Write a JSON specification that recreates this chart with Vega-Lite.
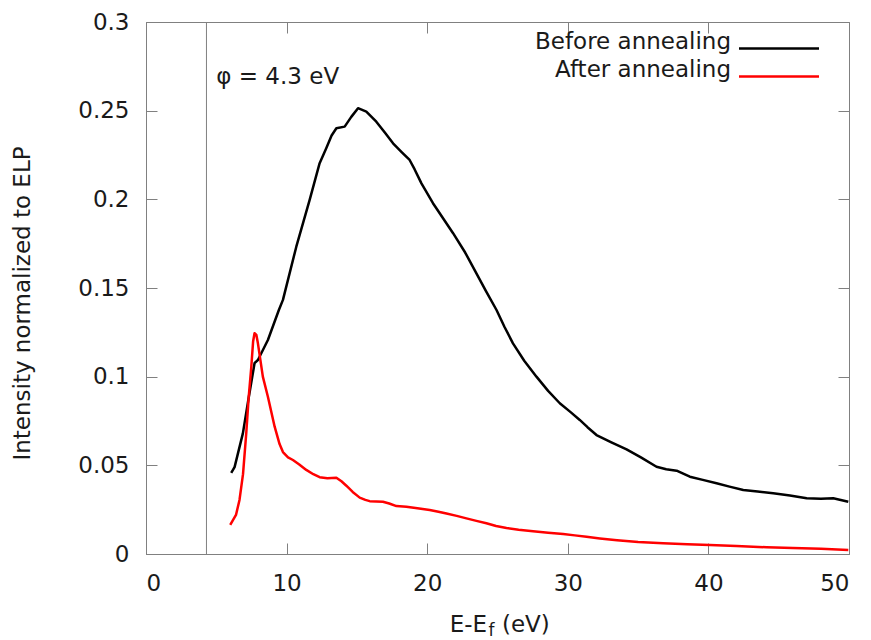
{
  "$schema": "https://vega.github.io/schema/vega-lite/v6.json",
  "width": 703,
  "height": 532,
  "autosize": {"type": "none"},
  "padding": {"left": 146, "top": 22, "right": 22, "bottom": 86},
  "background": "white",
  "config": {
    "font": "DejaVu Sans",
    "view": {"stroke": "#808080", "strokeWidth": 1},
    "axis": {
      "domainColor": "#808080",
      "tickColor": "#808080",
      "grid": false,
      "labelColor": "#1a1a1a",
      "titleColor": "#1a1a1a",
      "labelFont": "DejaVu Sans",
      "titleFont": "DejaVu Sans",
      "labelFontSize": 23,
      "titleFontSize": 23,
      "titleFontWeight": "normal",
      "tickSize": -11
    },
    "text": {"font": "DejaVu Sans", "color": "#1a1a1a"}
  },
  "datasets": {
    "curves": [
      {"series": "Before annealing", "e": 6.06, "intensity": 0.0457},
      {"series": "Before annealing", "e": 6.3, "intensity": 0.049},
      {"series": "Before annealing", "e": 6.89, "intensity": 0.068},
      {"series": "Before annealing", "e": 7.3, "intensity": 0.088},
      {"series": "Before annealing", "e": 7.72, "intensity": 0.1076},
      {"series": "Before annealing", "e": 7.96, "intensity": 0.1094},
      {"series": "Before annealing", "e": 8.67, "intensity": 0.1207},
      {"series": "Before annealing", "e": 9.45, "intensity": 0.1376},
      {"series": "Before annealing", "e": 9.74, "intensity": 0.1433},
      {"series": "Before annealing", "e": 10.69, "intensity": 0.1733},
      {"series": "Before annealing", "e": 11.64, "intensity": 0.1997},
      {"series": "Before annealing", "e": 12.35, "intensity": 0.2204},
      {"series": "Before annealing", "e": 12.82, "intensity": 0.2288},
      {"series": "Before annealing", "e": 13.2, "intensity": 0.236},
      {"series": "Before annealing", "e": 13.54, "intensity": 0.2401},
      {"series": "Before annealing", "e": 14.13, "intensity": 0.241},
      {"series": "Before annealing", "e": 14.6, "intensity": 0.2465},
      {"series": "Before annealing", "e": 15.08, "intensity": 0.2514},
      {"series": "Before annealing", "e": 15.67, "intensity": 0.2495},
      {"series": "Before annealing", "e": 16.38, "intensity": 0.2438},
      {"series": "Before annealing", "e": 17.0, "intensity": 0.2375},
      {"series": "Before annealing", "e": 17.57, "intensity": 0.2316},
      {"series": "Before annealing", "e": 18.2, "intensity": 0.2265},
      {"series": "Before annealing", "e": 18.75, "intensity": 0.2222},
      {"series": "Before annealing", "e": 19.1, "intensity": 0.217},
      {"series": "Before annealing", "e": 19.59, "intensity": 0.209},
      {"series": "Before annealing", "e": 20.41, "intensity": 0.1978},
      {"series": "Before annealing", "e": 20.65, "intensity": 0.195},
      {"series": "Before annealing", "e": 21.84, "intensity": 0.1809},
      {"series": "Before annealing", "e": 22.7, "intensity": 0.17},
      {"series": "Before annealing", "e": 23.5, "intensity": 0.1583},
      {"series": "Before annealing", "e": 24.2, "intensity": 0.148},
      {"series": "Before annealing", "e": 24.93, "intensity": 0.1376},
      {"series": "Before annealing", "e": 25.5, "intensity": 0.128},
      {"series": "Before annealing", "e": 26.1, "intensity": 0.1188},
      {"series": "Before annealing", "e": 26.9, "intensity": 0.109},
      {"series": "Before annealing", "e": 27.77, "intensity": 0.1},
      {"series": "Before annealing", "e": 28.6, "intensity": 0.092},
      {"series": "Before annealing", "e": 29.43, "intensity": 0.085},
      {"series": "Before annealing", "e": 30.2, "intensity": 0.08},
      {"series": "Before annealing", "e": 30.85, "intensity": 0.0756},
      {"series": "Before annealing", "e": 31.4, "intensity": 0.0715},
      {"series": "Before annealing", "e": 32.04, "intensity": 0.0671},
      {"series": "Before annealing", "e": 33.1, "intensity": 0.063},
      {"series": "Before annealing", "e": 34.18, "intensity": 0.059},
      {"series": "Before annealing", "e": 35.2, "intensity": 0.0545},
      {"series": "Before annealing", "e": 36.31, "intensity": 0.0492},
      {"series": "Before annealing", "e": 37.0, "intensity": 0.0478},
      {"series": "Before annealing", "e": 37.74, "intensity": 0.047},
      {"series": "Before annealing", "e": 38.68, "intensity": 0.0436},
      {"series": "Before annealing", "e": 39.6, "intensity": 0.0418},
      {"series": "Before annealing", "e": 40.58, "intensity": 0.0399},
      {"series": "Before annealing", "e": 41.5, "intensity": 0.038},
      {"series": "Before annealing", "e": 42.48, "intensity": 0.0361},
      {"series": "Before annealing", "e": 43.5, "intensity": 0.0352},
      {"series": "Before annealing", "e": 44.61, "intensity": 0.0342},
      {"series": "Before annealing", "e": 45.8, "intensity": 0.033},
      {"series": "Before annealing", "e": 46.99, "intensity": 0.0314},
      {"series": "Before annealing", "e": 48.0, "intensity": 0.0312},
      {"series": "Before annealing", "e": 48.88, "intensity": 0.0314},
      {"series": "Before annealing", "e": 49.95, "intensity": 0.0295},
      {"series": "After annealing", "e": 5.99, "intensity": 0.0164},
      {"series": "After annealing", "e": 6.4, "intensity": 0.022},
      {"series": "After annealing", "e": 6.65, "intensity": 0.0305},
      {"series": "After annealing", "e": 6.9, "intensity": 0.045},
      {"series": "After annealing", "e": 7.13, "intensity": 0.0681},
      {"series": "After annealing", "e": 7.3, "intensity": 0.088},
      {"series": "After annealing", "e": 7.49, "intensity": 0.1056},
      {"series": "After annealing", "e": 7.62, "intensity": 0.12},
      {"series": "After annealing", "e": 7.72, "intensity": 0.1245},
      {"series": "After annealing", "e": 7.85, "intensity": 0.1235},
      {"series": "After annealing", "e": 7.96, "intensity": 0.1188},
      {"series": "After annealing", "e": 8.31, "intensity": 0.1},
      {"series": "After annealing", "e": 8.67, "intensity": 0.0887},
      {"series": "After annealing", "e": 9.15, "intensity": 0.0718},
      {"series": "After annealing", "e": 9.5, "intensity": 0.062},
      {"series": "After annealing", "e": 9.74, "intensity": 0.0575},
      {"series": "After annealing", "e": 10.1, "intensity": 0.0545},
      {"series": "After annealing", "e": 10.45, "intensity": 0.053},
      {"series": "After annealing", "e": 10.9, "intensity": 0.0505},
      {"series": "After annealing", "e": 11.4, "intensity": 0.0474},
      {"series": "After annealing", "e": 11.9, "intensity": 0.045},
      {"series": "After annealing", "e": 12.35, "intensity": 0.0433},
      {"series": "After annealing", "e": 12.9, "intensity": 0.0427},
      {"series": "After annealing", "e": 13.54, "intensity": 0.043},
      {"series": "After annealing", "e": 13.9, "intensity": 0.041},
      {"series": "After annealing", "e": 14.25, "intensity": 0.0385},
      {"series": "After annealing", "e": 14.7, "intensity": 0.035},
      {"series": "After annealing", "e": 15.2, "intensity": 0.0318},
      {"series": "After annealing", "e": 15.6, "intensity": 0.0305},
      {"series": "After annealing", "e": 15.91, "intensity": 0.0298},
      {"series": "After annealing", "e": 16.85, "intensity": 0.0295},
      {"series": "After annealing", "e": 17.3, "intensity": 0.0285},
      {"series": "After annealing", "e": 17.81, "intensity": 0.027},
      {"series": "After annealing", "e": 18.52, "intensity": 0.0267},
      {"series": "After annealing", "e": 19.3, "intensity": 0.0258},
      {"series": "After annealing", "e": 20.18, "intensity": 0.0248},
      {"series": "After annealing", "e": 20.8, "intensity": 0.0238},
      {"series": "After annealing", "e": 21.37, "intensity": 0.0228},
      {"series": "After annealing", "e": 22.1, "intensity": 0.0215},
      {"series": "After annealing", "e": 22.79, "intensity": 0.0201},
      {"series": "After annealing", "e": 23.5, "intensity": 0.0187},
      {"series": "After annealing", "e": 24.21, "intensity": 0.0173},
      {"series": "After annealing", "e": 24.9, "intensity": 0.0158},
      {"series": "After annealing", "e": 25.64, "intensity": 0.0147},
      {"series": "After annealing", "e": 26.5, "intensity": 0.0137},
      {"series": "After annealing", "e": 27.53, "intensity": 0.0128},
      {"series": "After annealing", "e": 28.6, "intensity": 0.012},
      {"series": "After annealing", "e": 29.67, "intensity": 0.0113},
      {"series": "After annealing", "e": 30.5, "intensity": 0.0105},
      {"series": "After annealing", "e": 31.33, "intensity": 0.0097},
      {"series": "After annealing", "e": 32.28, "intensity": 0.0088},
      {"series": "After annealing", "e": 33.5, "intensity": 0.0078},
      {"series": "After annealing", "e": 35.0, "intensity": 0.0068},
      {"series": "After annealing", "e": 36.78, "intensity": 0.006},
      {"series": "After annealing", "e": 38.5, "intensity": 0.0055},
      {"series": "After annealing", "e": 40.1, "intensity": 0.0051},
      {"series": "After annealing", "e": 42.0, "intensity": 0.0045},
      {"series": "After annealing", "e": 44.14, "intensity": 0.0038},
      {"series": "After annealing", "e": 46.0, "intensity": 0.0034},
      {"series": "After annealing", "e": 48.0, "intensity": 0.003},
      {"series": "After annealing", "e": 49.95, "intensity": 0.0023}
    ]
  },
  "layer": [
    {
      "data": {"values": [{}]},
      "mark": {"type": "rule", "color": "#808080", "strokeWidth": 1},
      "encoding": {
        "x": {
          "datum": 4.3,
          "type": "quantitative",
          "scale": {"domain": [0, 50], "nice": false},
          "axis": {"orient": "top", "labels": false, "title": null, "domain": false, "values": [0, 10, 20, 30, 40, 50]}
        }
      }
    },
    {
      "data": {"name": "curves"},
      "mark": {"type": "line", "strokeWidth": 2.5, "strokeJoin": "round"},
      "encoding": {
        "x": {
          "field": "e",
          "type": "quantitative",
          "scale": {"domain": [0, 50], "nice": false},
          "axis": {"orient": "bottom", "title": null, "values": [0, 10, 20, 30, 40, 50], "labelPadding": 29}
        },
        "y": {
          "field": "intensity",
          "type": "quantitative",
          "scale": {"domain": [0, 0.3], "nice": false},
          "axis": {
            "orient": "left",
            "title": "Intensity normalized to ELP",
            "values": [0, 0.05, 0.1, 0.15, 0.2, 0.25, 0.3],
            "format": ".2~f",
            "labelPadding": 28,
            "titleX": -124,
            "titleY": 281,
            "titleBaseline": "middle",
            "titleAngle": -90,
            "titleAlign": "center"
          }
        },
        "color": {
          "field": "series",
          "type": "nominal",
          "scale": {"domain": ["Before annealing", "After annealing"], "range": ["#000000", "#ff0000"]},
          "legend": {
            "orient": "none",
            "legendX": 621.5,
            "legendY": 15,
            "title": null,
            "symbolType": "M-4,0H4",
            "symbolSize": 400,
            "symbolStrokeWidth": 2.5,
            "labelAlign": "right",
            "labelOffset": -59.5,
            "labelFontSize": 23,
            "labelColor": "#1a1a1a",
            "labelBaseline": "alphabetic",
            "labelLimit": 400,
            "rowPadding": 4,
            "padding": 0
          }
        }
      }
    },
    {
      "data": {"values": [{}]},
      "mark": {"type": "text", "text": "φ = 4.3 eV", "align": "left", "baseline": "alphabetic", "fontSize": 23},
      "encoding": {
        "x": {"datum": 5, "type": "quantitative", "scale": {"domain": [0, 50], "nice": false}, "axis": null},
        "y": {
          "datum": 0.265,
          "type": "quantitative",
          "scale": {"domain": [0, 0.3], "nice": false},
          "axis": {"orient": "right", "labels": false, "title": null, "domain": false, "values": [0, 0.05, 0.1, 0.15, 0.2, 0.25, 0.3]}
        }
      }
    },
    {
      "data": {"values": [{}]},
      "mark": {"type": "text", "text": "E-E", "align": "right", "baseline": "alphabetic", "fontSize": 23, "dx": -10.5, "dy": 78, "clip": false},
      "encoding": {
        "x": {"datum": 25, "type": "quantitative", "scale": {"domain": [0, 50], "nice": false}, "axis": null},
        "y": {"datum": 0, "type": "quantitative", "scale": {"domain": [0, 0.3], "nice": false}, "axis": null}
      }
    },
    {
      "data": {"values": [{}]},
      "mark": {"type": "text", "text": "f", "align": "left", "baseline": "alphabetic", "fontSize": 17, "dx": -9, "dy": 82, "clip": false},
      "encoding": {
        "x": {"datum": 25, "type": "quantitative", "scale": {"domain": [0, 50], "nice": false}, "axis": null},
        "y": {"datum": 0, "type": "quantitative", "scale": {"domain": [0, 0.3], "nice": false}, "axis": null}
      }
    },
    {
      "data": {"values": [{}]},
      "mark": {"type": "text", "text": "(eV)", "align": "left", "baseline": "alphabetic", "fontSize": 23, "dx": 4.5, "dy": 78, "clip": false},
      "encoding": {
        "x": {"datum": 25, "type": "quantitative", "scale": {"domain": [0, 50], "nice": false}, "axis": null},
        "y": {"datum": 0, "type": "quantitative", "scale": {"domain": [0, 0.3], "nice": false}, "axis": null}
      }
    }
  ],
  "resolve": {"axis": {"x": "independent", "y": "independent"}}
}
